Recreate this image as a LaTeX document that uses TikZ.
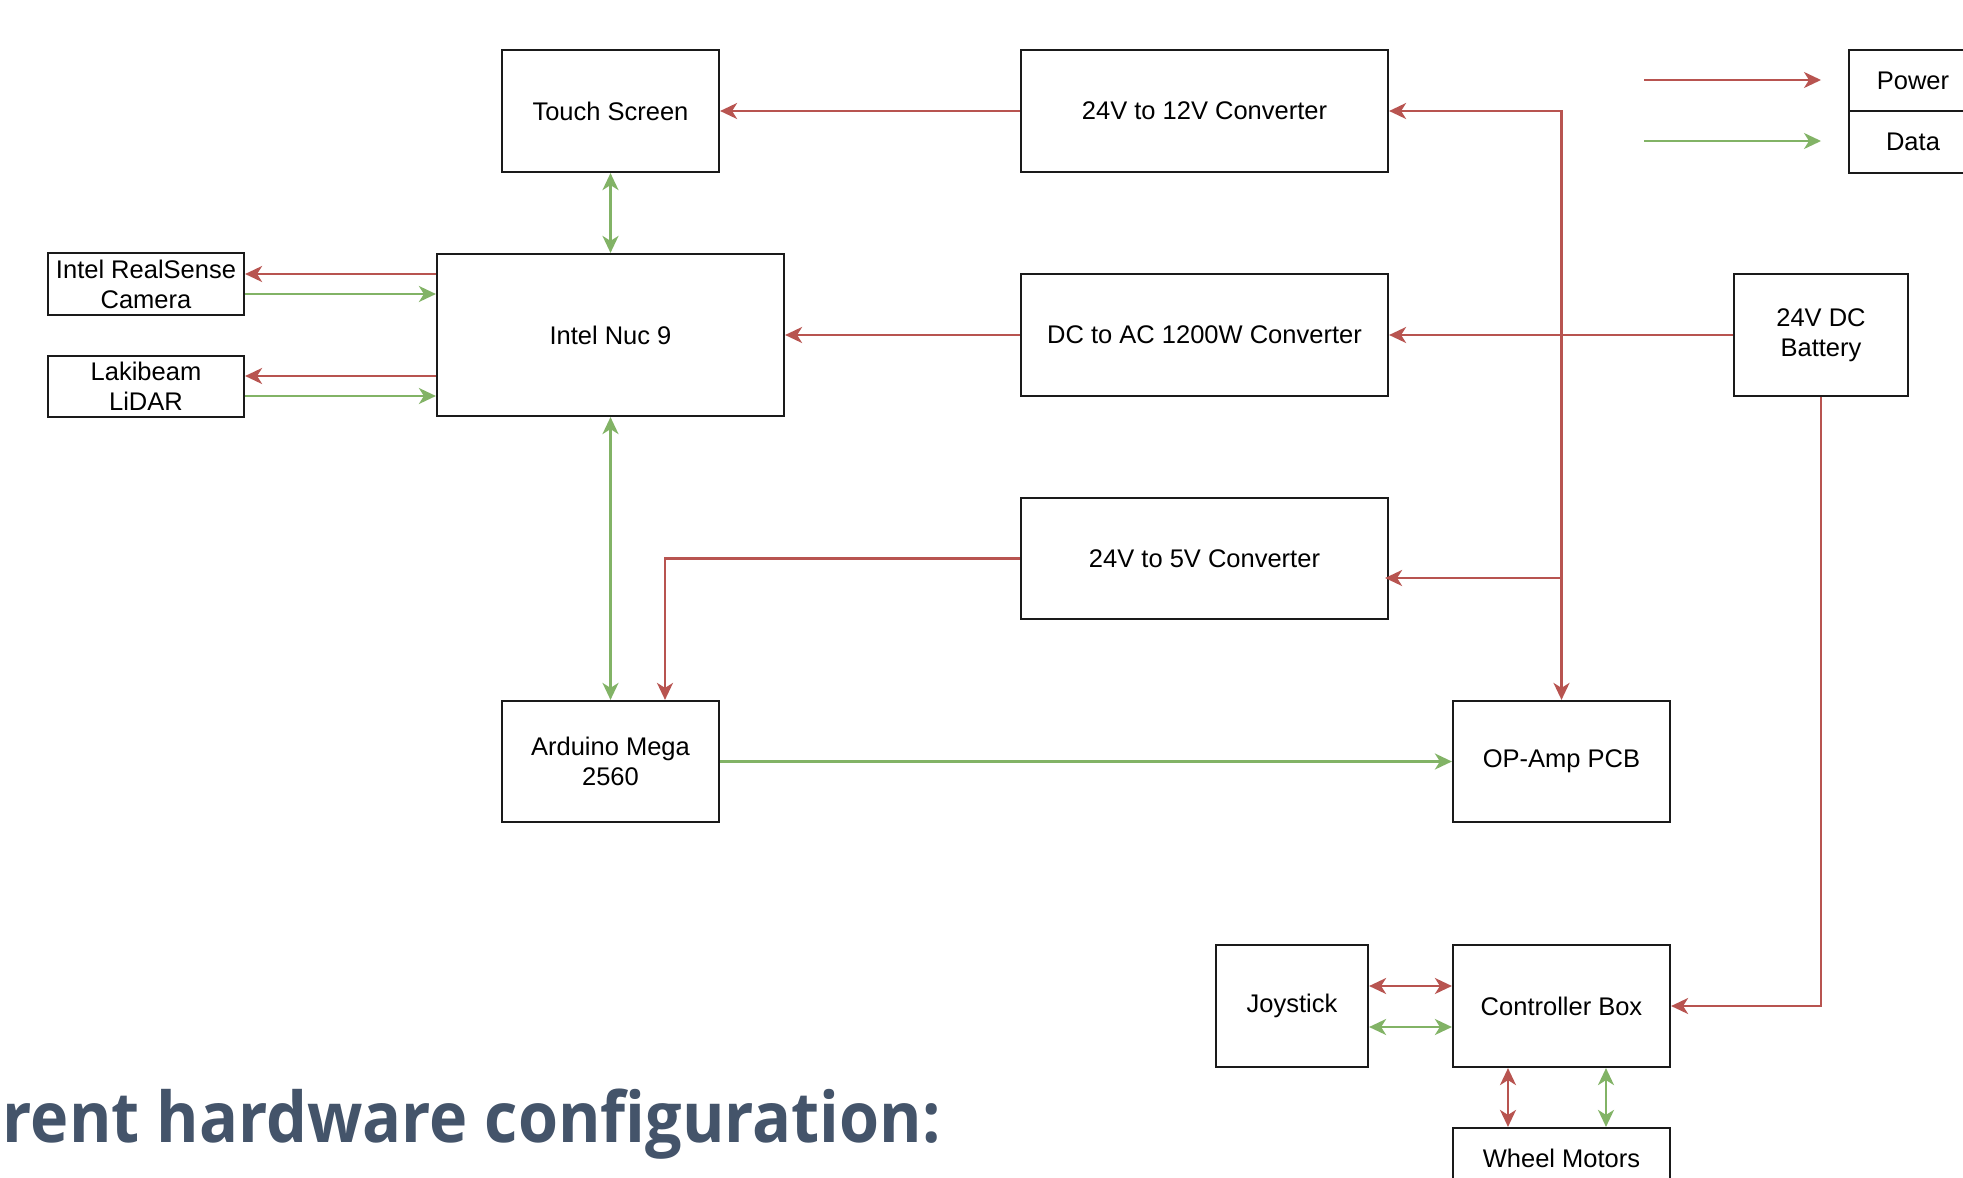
\documentclass[tikz,border=0pt]{standalone}
\usepackage{fontspec}
\usepackage{graphicx}
\setmainfont{Liberation Sans}
\newfontfamily\titlefont{Open Sans}
\usetikzlibrary{arrows.meta}
\definecolor{pwr}{HTML}{B85450}
\definecolor{dat}{HTML}{82B366}
\definecolor{ttl}{HTML}{44546A}
\definecolor{brd}{HTML}{1A1A1A}
\begin{document}
\begin{tikzpicture}[x=1pt,y=-1pt,
  box/.style={draw=brd,line width=2.2pt,inner sep=0pt,align=center,
    font=\fontsize{25.5}{30}\selectfont},
  pw/.style={draw=pwr,line width=2.2pt,-{Stealth[length=17pt,width=16pt,inset=5pt]}},
  dt/.style={draw=dat,line width=2.2pt,-{Stealth[length=17pt,width=16pt,inset=5pt]}},
  pwb/.style={draw=pwr,line width=2.2pt,{Stealth[length=17pt,width=16pt,inset=5pt]}-{Stealth[length=17pt,width=16pt,inset=5pt]}},
  dtb/.style={draw=dat,line width=2.2pt,{Stealth[length=17pt,width=16pt,inset=5pt]}-{Stealth[length=17pt,width=16pt,inset=5pt]}}]
\useasboundingbox (0,0) rectangle (1963,1178);
\fill[white] (0,0) rectangle (1963,1178);

\node[box,minimum width=217pt,minimum height=122pt] (ts) at (610.5,111) {Touch Screen};
\node[box,minimum width=367pt,minimum height=122pt] (c12) at (1204.5,111) {24V to 12V Converter};
\node[box,minimum width=196pt,minimum height=62pt] (cam) at (146,284) {Intel RealSense\\Camera};
\node[box,minimum width=196pt,minimum height=61pt] (lid) at (146,386.5) {Lakibeam\\LiDAR};
\node[box,minimum width=347pt,minimum height=162pt] (nuc) at (610.5,335) {Intel Nuc 9};
\node[box,minimum width=367pt,minimum height=122pt] (dcac) at (1204.5,335) {DC to AC 1200W Converter};
\node[box,minimum width=174pt,minimum height=122pt] (bat) at (1821,335) {24V DC\\Battery};
\node[box,minimum width=367pt,minimum height=121pt] (c5) at (1204.5,558.5) {24V to 5V Converter};
\node[box,minimum width=217pt,minimum height=121pt] (ard) at (610.5,761.5) {Arduino Mega\\2560};
\node[box,minimum width=217pt,minimum height=121pt] (op) at (1561.5,761.5) {OP-Amp PCB};
\node[box,minimum width=152pt,minimum height=122pt] (joy) at (1292,1006) {Joystick};
\node[box,minimum width=217pt,minimum height=122pt] (cb) at (1561.5,1006) {Controller Box};
\node[box,minimum width=217pt,minimum height=60pt] (wm) at (1561.5,1158) {Wheel Motors};
\node[box,minimum width=128pt,minimum height=61pt] (lp) at (1913,80.5) {Power};
\node[box,minimum width=128pt,minimum height=62pt] (ld) at (1913,142) {Data};

% legend arrows
\coordinate (lps) at (1644,80);
\coordinate (lds) at (1644,141);
\coordinate (lpe) at (1821,80);
\coordinate (lde) at (1821,141);
\draw[pw] (lps) -- (lpe);
\draw[dt] (lds) -- (lde);

% power
\draw[pw] (c12.west) -- (ts.east);
\draw[pw] (dcac.west) -- (nuc.east);
\draw[pw] (bat.west) -- (dcac.east);
\draw[pwb] (c12.east) -| (op.north);
\coordinate (j5) at (1561.5,578);
\draw[pw,shorten >=-4pt] (j5) -- (c5.east |- j5);
\coordinate (k5) at (665,558.5);
\draw[pw] (c5.west) -- (k5) -- (k5 |- ard.north);
\draw[pw] (bat.south) |- (cb.east);
\draw[pw] (nuc.west |- 0,274) -- (cam.east |- 0,274);
\draw[pw] (nuc.west |- 0,376) -- (lid.east |- 0,376);
\draw[pwb] (joy.east |- 0,986) -- (cb.west |- 0,986);
\draw[pwb] (cb.south -| 1508,0) -- (wm.north -| 1508,0);

% data
\draw[dtb] (ts.south) -- (nuc.north);
\draw[dtb] (nuc.south) -- (ard.north);
\draw[dt] (cam.east |- 0,294) -- (nuc.west |- 0,294);
\draw[dt] (lid.east |- 0,396) -- (nuc.west |- 0,396);
\draw[dt] (ard.east) -- (op.west);
\draw[dtb] (joy.east |- 0,1027) -- (cb.west |- 0,1027);
\draw[dtb] (cb.south -| 1606,0) -- (wm.north -| 1606,0);

\node[anchor=base east,inner sep=0pt,text=ttl,font=\titlefont\bfseries\fontsize{70}{80}\selectfont] (title) at (941,1142) {\resizebox{938pt}{\height}{rent hardware configuration:}};
\end{tikzpicture}
\end{document}
